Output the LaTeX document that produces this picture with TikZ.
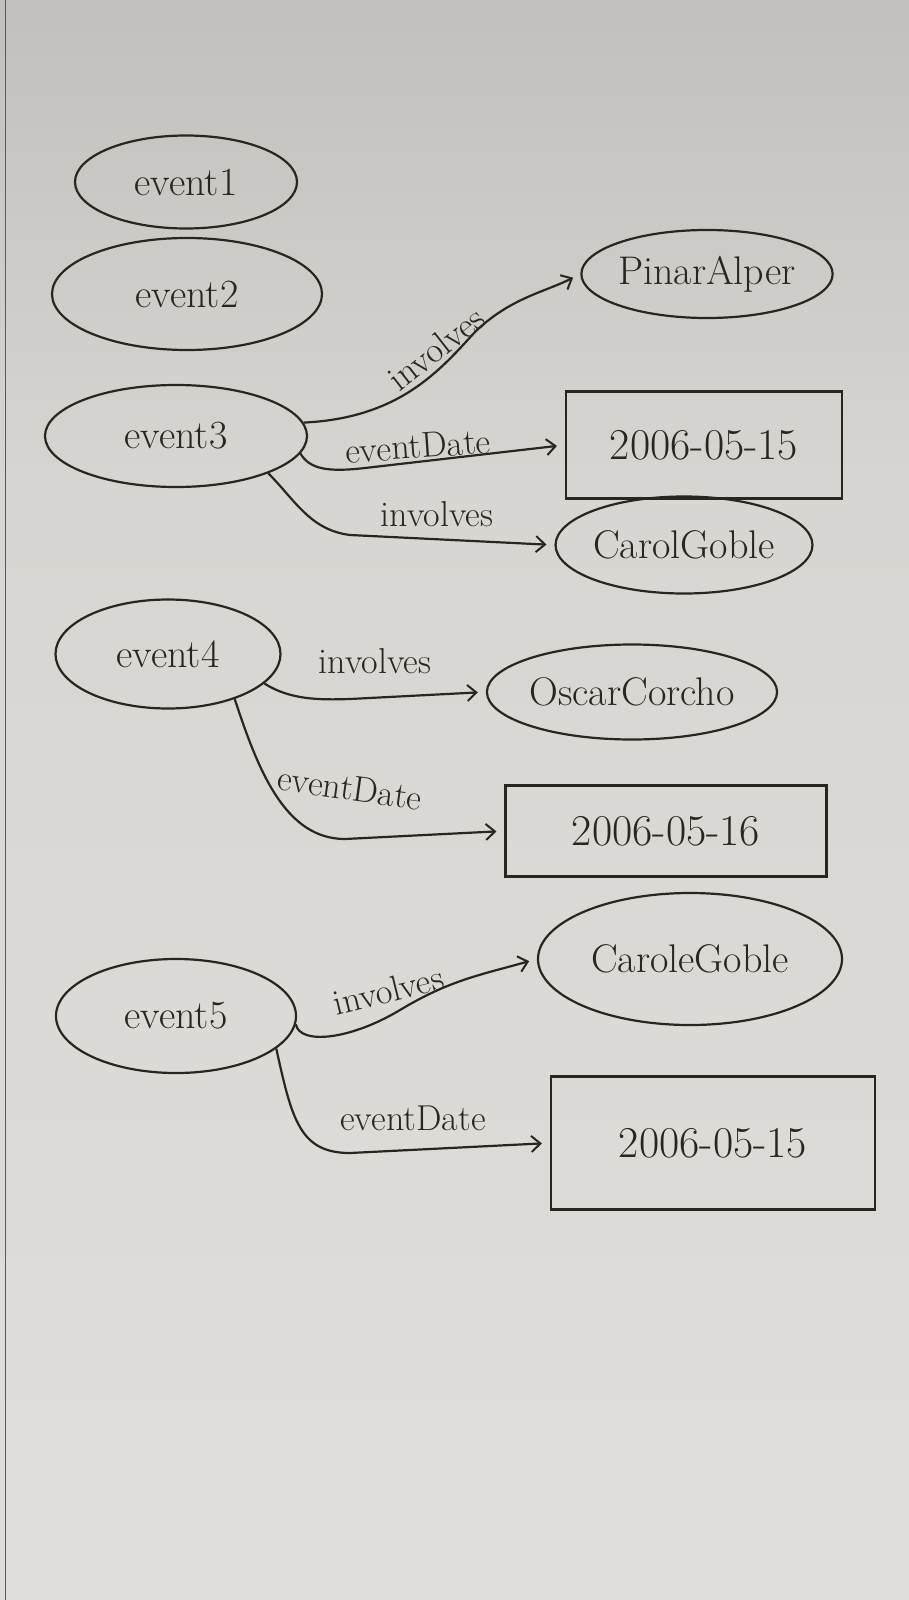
\documentclass[tikz,border=0pt]{standalone}
\usetikzlibrary{shapes.geometric,arrows.meta}
\definecolor{ink}{HTML}{2B2521}
\definecolor{boardtop}{HTML}{C2C0BC}
\definecolor{boardmid}{HTML}{D8D6D2}
\definecolor{boardbot}{HTML}{E0DEDA}
\tikzset{
  ent/.style={draw=ink, line width=2.2pt, ellipse, inner sep=0pt, text=ink,
    font=\fontsize{40}{44}\selectfont},
  lit/.style={draw=ink, line width=2.2pt, rectangle, inner sep=0pt, text=ink,
    font=\fontsize{44}{48}\selectfont},
  edge/.style={draw=ink, line width=2.2pt, -{Straight Barb[length=9pt,width=16pt,line width=2pt]}, shorten >=8pt},
  lbl/.style={text=ink, inner sep=0pt, font=\fontsize{36}{40}\selectfont},
}
\begin{document}
\begin{tikzpicture}[x=1pt,y=-1pt]
\useasboundingbox (0,0) rectangle (909,1600);
\shade[top color=boardtop, bottom color=boardmid] (0,0) rectangle (909,500);
\shade[top color=boardmid, bottom color=boardbot] (0,500) rectangle (909,1600);
\draw[gray!70!black, line width=1pt] (5,0) -- (5,1600);

% nodes
\node[ent, minimum width=222pt, minimum height=93pt] (e1) at (186,182) {event1};
\node[ent, minimum width=270pt, minimum height=112pt] (e2) at (187,294) {event2};
\node[ent, minimum width=262pt, minimum height=102pt] (e3) at (176,436) {event3};
\node[ent, minimum width=250pt, minimum height=88pt] (pinar) at (707,274) {PinarAlper};
\node[lit, minimum width=276pt, minimum height=107pt] (d3) at (704,445) {2006-05-15};
\node[ent, minimum width=245pt, minimum height=97pt] (carol) at (684,545) {CarolGoble};
\node[ent, minimum width=225pt, minimum height=109pt] (e4) at (168,654) {event4};
\node[ent, minimum width=243pt, minimum height=95pt] (oscar) at (632,692) {OscarCorcho};
\node[lit, minimum width=321pt, minimum height=91pt] (d4) at (666,831) {2006-05-16};
\node[ent, minimum width=240pt, minimum height=114pt] (e5) at (176,1016) {event5};
\node[ent, minimum width=304pt, minimum height=132pt] (carole) at (690,959) {CaroleGoble};
\node[lit, minimum width=324pt, minimum height=133pt] (d5) at (713,1143) {2006-05-15};

% connectors
\draw[edge] (e3.6) .. controls (400,418) and (440,370) .. (475,332)
  .. controls (510,298) and (545,292) .. (pinar.west);
\draw[edge] (e3.-8) .. controls (310,470) and (330,472) .. (365,468) -- (d3.west);
\draw[edge] (e3.-22) .. controls (295,500) and (310,530) .. (350,535) -- (carol.west);
\draw[edge] (e4.-17) .. controls (290,700) and (320,700) .. (350,699) -- (oscar.west);
\draw[edge] (e4.-34) .. controls (258,770) and (285,839) .. (345,839) -- (d4.west);
\draw[edge] (e5.-4) .. controls (300,1045) and (350,1040) .. (400,1010)
  .. controls (450,980) and (480,975) .. (carole.west);
\draw[edge] (e5.-18) .. controls (292,1120) and (300,1153) .. (350,1153) -- (d5.west);

% labels
\node[lbl, rotate=38] (l1) at (436,348) {involves};
\node[lbl, rotate=4] (l2) at (418,446) {eventDate};
\node[lbl] (l3) at (437,514) {involves};
\node[lbl] (l4) at (375,661) {involves};
\node[lbl, rotate=-8] (l5) at (350,788) {eventDate};
\node[lbl, rotate=14] (l6) at (388,990) {involves};
\node[lbl] (l7) at (413,1118) {eventDate};
\end{tikzpicture}
\end{document}
